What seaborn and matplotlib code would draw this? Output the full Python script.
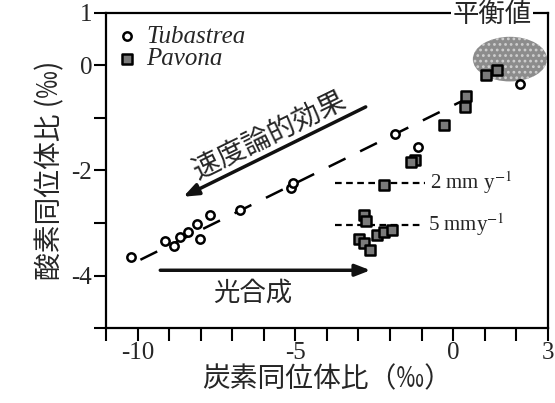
import numpy as np
import pandas as pd
import matplotlib
matplotlib.use('Agg')
import matplotlib.pyplot as plt
import seaborn as sns
from matplotlib.patches import Ellipse
from matplotlib.ticker import FixedLocator

# ── data ─────────────────────────────────────────────────────────
tub_x = [-10.22, -9.12, -8.86, -8.65, -8.39, -8.12, -8.02, -7.70, -6.76, -5.14, -5.08, -1.83, -1.12, 2.13]
tub_y = [-3.64, -3.34, -3.44, -3.26, -3.18, -3.01, -3.31, -2.85, -2.75, -2.34, -2.24, -1.30, -1.56, -0.35]

pav_x = [1.05, 1.39, 0.42, 0.39, -0.29, -1.20, -1.32, -2.20, -2.83, -2.76, -2.41, -2.20, -1.94, -2.99, -2.83, -2.62]
pav_y = [-0.18, -0.09, -0.59, -0.80, -1.13, -1.80, -1.83, -2.28, -2.85, -2.96, -3.23, -3.17, -3.13, -3.31, -3.39, -3.51]

trend_x = [-9.91, 0.95]
trend_y = [-3.70, -0.48]

rate_labels = ['2 mm y$^{-1}$', '5 mmy$^{-1}$']
rate_y      = [-2.24, -3.04]
rate_x0     = [-3.75, -3.75]
rate_x1     = [-0.88, -0.94]

eq_center = (1.80, 0.12)
eq_size   = (2.35, 0.85)

x_major = [-10, -5, 0, 3]
x_minor = list(range(-11, 4))
y_major = [1, 0, -2, -4]
y_minor = [-1, -3, -5]

df = pd.DataFrame({
    'x': tub_x + pav_x,
    'y': tub_y + pav_y,
    'species': ['Tubastrea'] * len(tub_x) + ['Pavona'] * len(pav_x),
})

sns.set_style('ticks')
plt.rcParams['font.family'] = ['Noto Sans CJK JP', 'DejaVu Sans']
plt.rcParams['mathtext.fontset'] = 'stix'
plt.rcParams['axes.unicode_minus'] = False
plt.rcParams['hatch.linewidth'] = 1.2
SERIF = ['Liberation Serif', 'DejaVu Serif']

fig = plt.figure(figsize=(5.55, 4.03), dpi=100)
ax = fig.add_axes([0.191, 0.186, 0.796, 0.782])

# equilibrium blob
blob = Ellipse(eq_center, eq_size[0], eq_size[1], facecolor='#8c8c8c',
               edgecolor='#cfcfcf', hatch='...', linewidth=0, zorder=1)
ax.add_patch(blob)

# trend line
ax.plot(trend_x, trend_y, color='black', lw=1.8, dashes=(7.5, 6.5), zorder=2)

# growth-rate dashed lines
for lab, yy, x0, x1 in zip(rate_labels, rate_y, rate_x0, rate_x1):
    ax.plot([x0, x1], [yy, yy], color='black', lw=1.6, dashes=(3, 2), zorder=2)
    ax.text(x1 + 0.15, yy, lab, family=SERIF, fontsize=15, va='center', ha='left')

sns.scatterplot(data=df[df.species == 'Tubastrea'], x='x', y='y', ax=ax,
                marker='o', s=36, facecolor='white', edgecolor='black',
                linewidth=1.8, label='Tubastrea', zorder=4)
sns.scatterplot(data=df[df.species == 'Pavona'], x='x', y='y', ax=ax,
                marker='s', s=42, facecolor='#7a7a7a', edgecolor='black',
                linewidth=1.8, label='Pavona', zorder=3)

# arrows
arw = dict(arrowstyle='-|>,head_length=0.9,head_width=0.35', color='#111111', lw=2.5,
           shrinkA=0, shrinkB=0)
ax.annotate('', xy=(-8.55, -2.50), xytext=(-2.77, -0.79), arrowprops=arw)
ax.annotate('', xy=(-2.62, -3.90), xytext=(-9.28, -3.90), arrowprops=arw)
ax.text(-5.82, -1.32, '速度論的効果', fontsize=20, rotation=26,
        rotation_mode='anchor', ha='center', va='center')
ax.text(-6.35, -4.33, '光合成', fontsize=19, ha='center', va='center')
ax.text(1.23, 0.97, '平衡値', fontsize=19, ha='center', va='center', clip_on=False,
        bbox=dict(facecolor='white', edgecolor='none', pad=1), zorder=10)

ax.set_xlim(-11, 3)
ax.set_ylim(-5, 1)
ax.xaxis.set_major_locator(FixedLocator(x_major))
ax.xaxis.set_minor_locator(FixedLocator(x_minor))
ax.yaxis.set_major_locator(FixedLocator(y_major))
ax.yaxis.set_minor_locator(FixedLocator(y_minor))
ax.tick_params(which='both', direction='out', length=9, width=1.5, color='black')
ax.tick_params(which='major', labelsize=18, pad=1)
for lab in ax.get_xticklabels() + ax.get_yticklabels():
    lab.set_family(SERIF)
for sp in ax.spines.values():
    sp.set_linewidth(1.6)
    sp.set_visible(True)
    sp.set_color('black')

ax.set_xlabel('炭素同位体比（‰）', fontsize=20, labelpad=0)
ax.set_ylabel('酸素同位体比 (‰)', fontsize=20, labelpad=4)

leg = ax.legend(loc='upper left', bbox_to_anchor=(-0.01, 1.0), frameon=False,
                handletextpad=0.3, labelspacing=0.0, borderaxespad=0.1,
                handlelength=1.0, prop={'family': SERIF, 'style': 'italic', 'size': 18})

fig.savefig('out.png', dpi=100)
